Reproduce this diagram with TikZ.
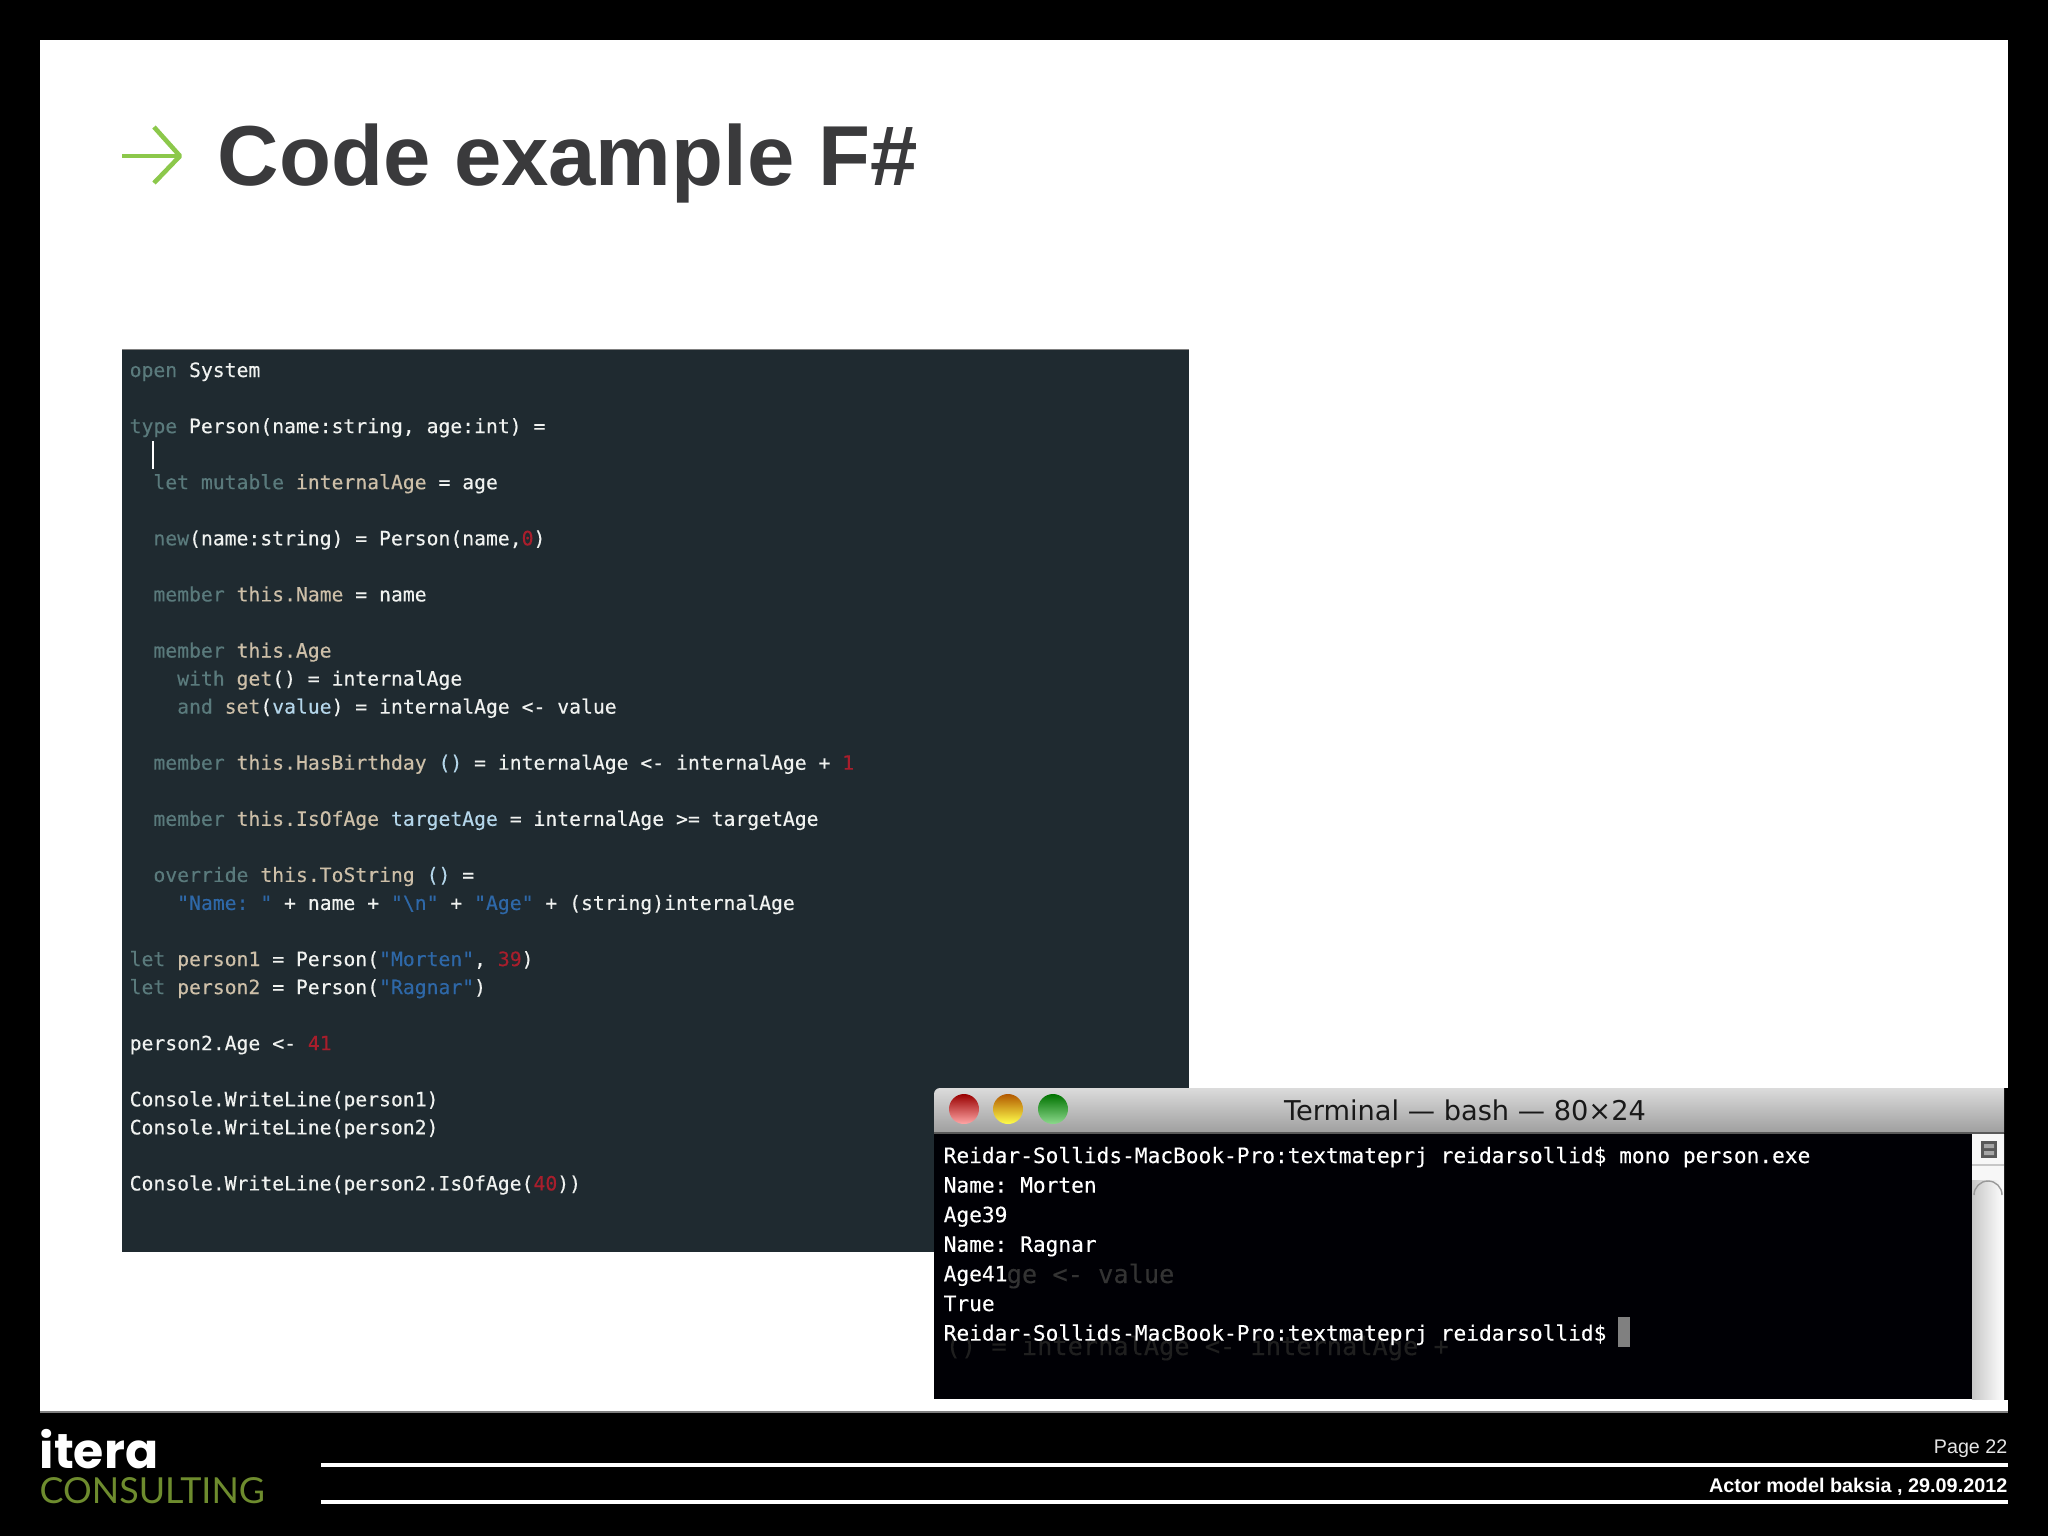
\documentclass[tikz,border=0pt]{standalone}
\usepackage{fontspec}
\setmainfont{Liberation Sans}
\setmonofont[FakeBold=0.3]{DejaVu Sans Mono}
\newfontfamily\titlebarfont{DejaVu Sans}
\newfontfamily\logofont{Poppins}
\newfontfamily\logothinfont{Lato}
\usepackage{tikz}
\usetikzlibrary{calc}

\definecolor{panelbg}{HTML}{1F2A30}
\definecolor{codekw}{HTML}{5A7A7C}
\definecolor{codeidn}{HTML}{CDBFA8}
\definecolor{codeplain}{HTML}{F0F2F0}
\definecolor{codestr}{HTML}{2E68A8}
\definecolor{codenum}{HTML}{A81E2C}
\definecolor{codeparm}{HTML}{B4D6EA}
\definecolor{slidegrey}{HTML}{3A3A3C}
\definecolor{arrowgreen}{HTML}{8CC84B}
\definecolor{logogreen}{HTML}{6E8C2E}

\newcommand{\kwd}[1]{\textcolor{codekw}{#1}}
\newcommand{\idn}[1]{\textcolor{codeidn}{#1}}
\newcommand{\strn}[1]{\textcolor{codestr}{#1}}
\newcommand{\numb}[1]{\textcolor{codenum}{#1}}
\newcommand{\parm}[1]{\textcolor{codeparm}{#1}}

% line number, indent in characters, text
\newcommand{\codeline}[3]{\node[codetext] (code#1) at ({129+11.88*#2},{377+28.05*#1}) {#3};}
\newcommand{\termline}[2]{\node[termtext] (term#1) at (943,{1163+29.6*#1}) {#2};}

\tikzset{
    codetext/.style={anchor=base west,inner sep=0pt,text=codeplain,font=\ttfamily\fontsize{5.61pt}{6pt}\selectfont},
    termtext/.style={anchor=base west,inner sep=0pt,text=white,font=\ttfamily\fontsize{6.02pt}{7pt}\selectfont},
    ghosttext/.style={anchor=base west,inner sep=0pt,font=\ttfamily\fontsize{7.2pt}{8pt}\selectfont},
    footrule/.style={white,line width=0.9pt}
}

\begin{document}
\begin{tikzpicture}[x=0.01cm,y=-0.01cm]
    \useasboundingbox (0,0) rectangle (2048,1536);

    % Slide
    \fill[black] (0,0) rectangle (2048,1536);
    \fill[white] (40,40) rectangle (2008,1412);
    \draw[gray,thin] (40,1412) -- (2008,1412);

    % Title with arrow
    \coordinate (tip) at (180,156);
    \draw[arrowgreen,line width=1.3pt,line join=bevel] (122,156) -- (tip);
    \draw[arrowgreen,line width=1.3pt,line join=bevel] (154,127) -- (tip) -- (154,183);
    \node[anchor=base west,inner sep=0pt,text=slidegrey,font=\bfseries\fontsize{24.2pt}{28pt}\selectfont] (title) at (217,185) {Code example F\#};

    % Code panel
    \fill[panelbg] (122,349) rectangle (1189,1252);
    \draw[gray,very thin] (122,349) -- (1189,349);
    \draw[white,line width=0.4pt] (153,441) -- (153,469);

    \codeline{0}{0}{\kwd{open} System}
    \codeline{2}{0}{\kwd{type} Person(name:string, age:int) =}
    \codeline{4}{2}{\kwd{let mutable} \idn{internalAge} = age}
    \codeline{6}{2}{\kwd{new}(name:string) = Person(name,\numb{0})}
    \codeline{8}{2}{\kwd{member} \idn{this.Name} = name}
    \codeline{10}{2}{\kwd{member} \idn{this.Age}}
    \codeline{11}{4}{\kwd{with} \idn{get}() = internalAge}
    \codeline{12}{4}{\kwd{and} \idn{set}(\parm{value}) = internalAge <- value}
    \codeline{14}{2}{\kwd{member} \idn{this.HasBirthday} \parm{()} = internalAge <- internalAge + \numb{1}}
    \codeline{16}{2}{\kwd{member} \idn{this.IsOfAge} \parm{targetAge} = internalAge >= targetAge}
    \codeline{18}{2}{\kwd{override} \idn{this.ToString} \parm{()} =}
    \codeline{19}{4}{\strn{"Name: "} + name + \strn{"\textbackslash n"} + \strn{"Age"} + (string)internalAge}
    \codeline{21}{0}{\kwd{let} \idn{person1} = Person(\strn{"Morten"}, \numb{39})}
    \codeline{22}{0}{\kwd{let} \idn{person2} = Person(\strn{"Ragnar"})}
    \codeline{24}{0}{person2.Age <- \numb{41}}
    \codeline{26}{0}{Console.WriteLine(person1)}
    \codeline{27}{0}{Console.WriteLine(person2)}
    \codeline{29}{0}{Console.WriteLine(person2.IsOfAge(\numb{40}))}

    % Terminal window
    \fill[black] (2004,1088) rectangle (2008,1400);
    \shade[top color=black!14,bottom color=black!38] (934,1133) -- (934,1094) arc (180:270:6) -- (2004,1088) -- (2004,1133) -- cycle;
    \draw[black!65,line width=0.5pt] (934,1133) -- (2004,1133);
    \fill[black!98!blue] (934,1134) rectangle (1972,1399);
    \shade[left color=black!22,right color=white] (1972,1134) rectangle (2004,1399);

    % Scroller
    \fill[black!3] (1972,1134) rectangle (2004,1180);
    \fill[black!65] (1981,1141) rectangle (1997,1158);
    \fill[black!35] (1984,1144) rectangle (1994,1148) (1984,1151) rectangle (1994,1155);
    \draw[black!22,thin] (1972,1165) -- (2004,1165);
    \draw[black!40,thin] (1974,1195) arc (180:360:14);

    % Traffic lights
    \shade[top color=red!60!black,middle color=red!90!white,bottom color=red!35!white] (964,1109) circle (15);
    \shade[top color=orange!70!black,middle color=orange!80!yellow,bottom color=yellow!70!white] (1008,1109) circle (15);
    \shade[top color=green!45!black,middle color=green!55!black!90!white,bottom color=green!35!white!85!black] (1053,1109) circle (15);

    \node[text=black!90,inner sep=0pt,font=\titlebarfont\fontsize{7.75pt}{9pt}\selectfont] (termtitle) at (1465,1110) {Terminal — bash — 80×24};

    % Ghost of the code behind the terminal
    \node[ghosttext,text=black!80] (ghost1) at (1006,1283) {ge <- value};
    \node[ghosttext,text=black!88] (ghost2) at (945,1355) {() = internalAge <- internalAge +};

    \termline{0}{Reidar-Sollids-MacBook-Pro:textmateprj reidarsollid\$ mono person.exe}
    \termline{1}{Name: Morten}
    \termline{2}{Age39}
    \termline{3}{Name: Ragnar}
    \termline{4}{Age41}
    \termline{5}{True}
    \termline{6}{Reidar-Sollids-MacBook-Pro:textmateprj reidarsollid\$}
    \fill[black!50] (1618,1317) rectangle (1630,1347);

    % Footer
    \node[anchor=base west,inner sep=0pt,text=white,font=\logofont\bfseries\fontsize{13.9pt}{16pt}\selectfont] (logotop) at (39,1468) {itera};
    \node[anchor=base west,inner sep=0pt,text=logogreen,font=\logothinfont\fontsize{10.2pt}{12pt}\selectfont] (logobottom) at (39,1503) {CONSULTING};
    \draw[footrule] (321,1465) -- (2008,1465);
    \draw[footrule] (321,1502) -- (2008,1502);
    \node[anchor=base east,inner sep=0pt,text=black!10,font=\fontsize{5.6pt}{7pt}\selectfont] (pagenum) at (2008,1453) {Page 22};
    \node[anchor=base east,inner sep=0pt,text=white,font=\bfseries\fontsize{5.63pt}{7pt}\selectfont] (footer) at (2008,1492) {Actor model baksia , 29.09.2012};
\end{tikzpicture}
\end{document}
